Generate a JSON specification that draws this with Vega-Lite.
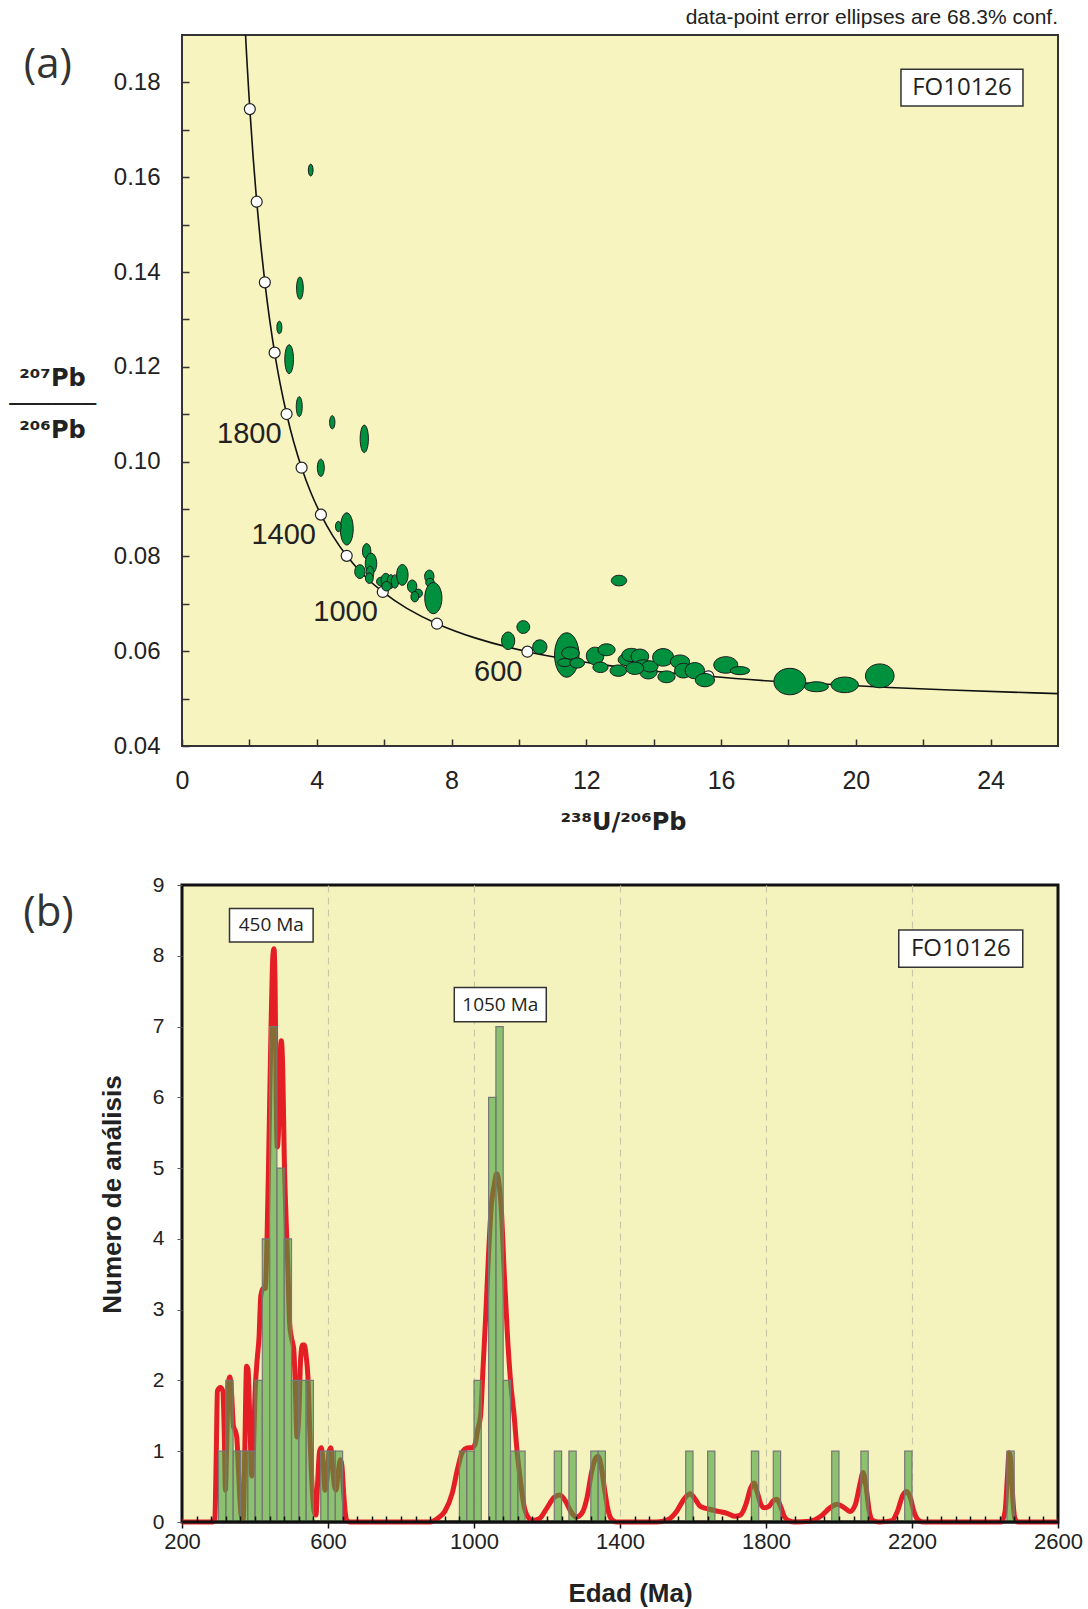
{
  "$schema": "https://vega.github.io/schema/vega-lite/v6.json",
  "autosize": {"type": "none"},
  "params": [{"name": "width", "value": 876}, {"name": "height", "value": 1487}],
  "padding": {"left": 182, "top": 35, "right": 30, "bottom": 87},
  "background": "white",
  "bounds": "flush",
  "spacing": 139,
  "config": {
    "font": "Liberation Sans",
    "axis": {"domain": false, "grid": false, "labelColor": "#222", "tickColor": "#222", "labelFlush": false, "labelOverlap": false, "titleColor": "#222"}
  },
  "datasets": {
    "concordia": [
      {"t": 240, "x": 26.363, "y": 0.050982},
      {"t": 250, "x": 25.289, "y": 0.051204},
      {"t": 300, "x": 20.992, "y": 0.052334},
      {"t": 350, "x": 17.923, "y": 0.053499},
      {"t": 400, "x": 15.621, "y": 0.0547},
      {"t": 450, "x": 13.831, "y": 0.05594},
      {"t": 500, "x": 12.399, "y": 0.05722},
      {"t": 600, "x": 10.252, "y": 0.059901},
      {"t": 700, "x": 8.718, "y": 0.062757},
      {"t": 800, "x": 7.568, "y": 0.0658},
      {"t": 900, "x": 6.674, "y": 0.069042},
      {"t": 1000, "x": 5.959, "y": 0.072499},
      {"t": 1100, "x": 5.375, "y": 0.076187},
      {"t": 1200, "x": 4.888, "y": 0.080123},
      {"t": 1300, "x": 4.476, "y": 0.084323},
      {"t": 1400, "x": 4.123, "y": 0.088807},
      {"t": 1500, "x": 3.817, "y": 0.093597},
      {"t": 1600, "x": 3.55, "y": 0.098716},
      {"t": 1700, "x": 3.314, "y": 0.104187},
      {"t": 1800, "x": 3.105, "y": 0.110036},
      {"t": 1900, "x": 2.917, "y": 0.116293},
      {"t": 2000, "x": 2.749, "y": 0.122987},
      {"t": 2100, "x": 2.597, "y": 0.13015},
      {"t": 2200, "x": 2.459, "y": 0.13782},
      {"t": 2300, "x": 2.333, "y": 0.146034},
      {"t": 2400, "x": 2.217, "y": 0.154833},
      {"t": 2500, "x": 2.111, "y": 0.164261},
      {"t": 2600, "x": 2.013, "y": 0.174367},
      {"t": 2700, "x": 1.922, "y": 0.1852},
      {"t": 2750, "x": 1.88, "y": 0.190908}
    ],
    "ellipses": [
      {"x": 3.82, "y": 0.1615, "sy": 0.00125, "form": "n4"},
      {"x": 3.5, "y": 0.1366, "sy": 0.00235, "form": "n3"},
      {"x": 2.89, "y": 0.1283, "sy": 0.00132, "form": "n4"},
      {"x": 3.18, "y": 0.1216, "sy": 0.00305, "form": "n3"},
      {"x": 3.48, "y": 0.1116, "sy": 0.0021, "form": "n3"},
      {"x": 4.46, "y": 0.1083, "sy": 0.0014, "form": "n4"},
      {"x": 5.41, "y": 0.1048, "sy": 0.0029, "form": "n3"},
      {"x": 4.12, "y": 0.0987, "sy": 0.00182, "form": "n4"},
      {"x": 4.89, "y": 0.0858, "sy": 0.0034, "form": "n4"},
      {"x": 4.64, "y": 0.0863, "sy": 0.0011, "form": "n5"},
      {"x": 5.48, "y": 0.0811, "sy": 0.0016, "form": "n5"},
      {"x": 5.61, "y": 0.0785, "sy": 0.0022, "form": "n5"},
      {"x": 5.28, "y": 0.0768, "sy": 0.00145, "form": "n7"},
      {"x": 5.58, "y": 0.0765, "sy": 0.00145, "form": "n5"},
      {"x": 5.56, "y": 0.0754, "sy": 0.0011, "form": "n7"},
      {"x": 5.9, "y": 0.0747, "sy": 0.0009, "form": "r"},
      {"x": 6.05, "y": 0.0751, "sy": 0.00132, "form": "n7"},
      {"x": 6.2, "y": 0.0747, "sy": 0.00145, "form": "n5"},
      {"x": 6.32, "y": 0.0747, "sy": 0.0014, "form": "n5"},
      {"x": 6.07, "y": 0.0737, "sy": 0.001, "form": "r"},
      {"x": 6.54, "y": 0.0761, "sy": 0.0022, "form": "n5"},
      {"x": 6.83, "y": 0.0737, "sy": 0.00132, "form": "n7"},
      {"x": 7.01, "y": 0.0722, "sy": 0.0009, "form": "r"},
      {"x": 6.91, "y": 0.0715, "sy": 0.0011, "form": "n7"},
      {"x": 7.34, "y": 0.0758, "sy": 0.00132, "form": "n7"},
      {"x": 7.36, "y": 0.0745, "sy": 0.0009, "form": "r"},
      {"x": 7.46, "y": 0.0712, "sy": 0.0033, "form": "n5"},
      {"x": 9.68, "y": 0.0622, "sy": 0.00185, "form": "n7"},
      {"x": 10.13, "y": 0.0651, "sy": 0.00135, "form": "r"},
      {"x": 10.62, "y": 0.0609, "sy": 0.0015, "form": "r"},
      {"x": 11.42, "y": 0.0592, "sy": 0.0047, "form": "n5"},
      {"x": 11.53, "y": 0.0596, "sy": 0.00128, "form": "w1"},
      {"x": 11.36, "y": 0.0576, "sy": 0.00085, "form": "w2"},
      {"x": 11.73, "y": 0.0575, "sy": 0.00106, "form": "w1"},
      {"x": 12.26, "y": 0.059, "sy": 0.00185, "form": "r"},
      {"x": 12.6, "y": 0.0603, "sy": 0.00125, "form": "w1"},
      {"x": 12.42, "y": 0.0566, "sy": 0.0011, "form": "w1"},
      {"x": 12.95, "y": 0.0559, "sy": 0.0012, "form": "w1"},
      {"x": 13.2, "y": 0.0582, "sy": 0.00125, "form": "w1"},
      {"x": 13.34, "y": 0.0592, "sy": 0.0014, "form": "w1"},
      {"x": 13.59, "y": 0.0589, "sy": 0.00155, "form": "w0"},
      {"x": 13.69, "y": 0.0568, "sy": 0.0014, "form": "w1"},
      {"x": 13.84, "y": 0.0557, "sy": 0.00155, "form": "w0"},
      {"x": 13.89, "y": 0.0568, "sy": 0.00118, "form": "w1"},
      {"x": 13.44, "y": 0.0564, "sy": 0.0013, "form": "w1"},
      {"x": 14.28, "y": 0.0587, "sy": 0.00185, "form": "w0"},
      {"x": 14.38, "y": 0.0546, "sy": 0.00125, "form": "w1"},
      {"x": 14.78, "y": 0.0578, "sy": 0.0014, "form": "w1"},
      {"x": 14.88, "y": 0.0559, "sy": 0.00155, "form": "w0"},
      {"x": 15.22, "y": 0.0559, "sy": 0.0017, "form": "w0"},
      {"x": 15.52, "y": 0.0539, "sy": 0.0014, "form": "w1"},
      {"x": 16.14, "y": 0.0571, "sy": 0.00175, "form": "w1"},
      {"x": 16.56, "y": 0.0559, "sy": 0.00085, "form": "w3"},
      {"x": 18.04, "y": 0.0536, "sy": 0.0028, "form": "w0"},
      {"x": 18.83, "y": 0.0525, "sy": 0.00105, "form": "w3"},
      {"x": 19.67, "y": 0.0529, "sy": 0.00165, "form": "w2"},
      {"x": 20.71, "y": 0.0548, "sy": 0.00252, "form": "w0"},
      {"x": 12.97, "y": 0.0749, "sy": 0.00112, "form": "w1"}
    ],
    "bins": [
      {"a": 300, "b": 320, "n": 1}, {"a": 320, "b": 340, "n": 2}, {"a": 340, "b": 360, "n": 1},
      {"a": 360, "b": 380, "n": 1}, {"a": 380, "b": 400, "n": 1}, {"a": 400, "b": 420, "n": 2},
      {"a": 420, "b": 440, "n": 4}, {"a": 440, "b": 460, "n": 7}, {"a": 460, "b": 480, "n": 5},
      {"a": 480, "b": 500, "n": 4}, {"a": 500, "b": 520, "n": 2}, {"a": 520, "b": 540, "n": 2},
      {"a": 540, "b": 560, "n": 2}, {"a": 580, "b": 600, "n": 1}, {"a": 600, "b": 620, "n": 1},
      {"a": 620, "b": 640, "n": 1},
      {"a": 960, "b": 980, "n": 1}, {"a": 980, "b": 1000, "n": 1}, {"a": 1000, "b": 1020, "n": 2},
      {"a": 1040, "b": 1060, "n": 6}, {"a": 1060, "b": 1080, "n": 7}, {"a": 1080, "b": 1100, "n": 2},
      {"a": 1100, "b": 1120, "n": 1}, {"a": 1120, "b": 1140, "n": 1},
      {"a": 1220, "b": 1240, "n": 1}, {"a": 1260, "b": 1280, "n": 1}, {"a": 1320, "b": 1340, "n": 1},
      {"a": 1340, "b": 1360, "n": 1},
      {"a": 1580, "b": 1600, "n": 1}, {"a": 1640, "b": 1660, "n": 1}, {"a": 1760, "b": 1780, "n": 1},
      {"a": 1820, "b": 1840, "n": 1}, {"a": 1980, "b": 2000, "n": 1}, {"a": 2060, "b": 2080, "n": 1},
      {"a": 2180, "b": 2200, "n": 1}, {"a": 2460, "b": 2480, "n": 1}
    ],
    "kde": [
      {"age": 200, "d": 0}, {"age": 285, "d": 0}, {"age": 290, "d": 0.05}, {"age": 294, "d": 1.0},
      {"age": 297, "d": 1.85}, {"age": 305, "d": 1.9}, {"age": 312, "d": 1.85}, {"age": 316, "d": 1.2},
      {"age": 319, "d": 0.45}, {"age": 322, "d": 1.0}, {"age": 327, "d": 1.95}, {"age": 331, "d": 2.05},
      {"age": 336, "d": 1.8}, {"age": 341, "d": 1.35}, {"age": 345, "d": 1.3}, {"age": 350, "d": 1.2},
      {"age": 355, "d": 0.7}, {"age": 362, "d": 0.1}, {"age": 368, "d": 0.05}, {"age": 372, "d": 1.0},
      {"age": 377, "d": 2.2}, {"age": 381, "d": 2.15}, {"age": 386, "d": 1.4}, {"age": 391, "d": 0.65},
      {"age": 395, "d": 0.9}, {"age": 400, "d": 1.8}, {"age": 406, "d": 2.3}, {"age": 411, "d": 2.6},
      {"age": 416, "d": 3.2}, {"age": 422, "d": 3.3}, {"age": 428, "d": 3.3}, {"age": 433, "d": 4.0},
      {"age": 438, "d": 5.3}, {"age": 444, "d": 7.0}, {"age": 449, "d": 8.0}, {"age": 452, "d": 8.1},
      {"age": 455, "d": 7.6}, {"age": 458, "d": 6.0}, {"age": 461, "d": 5.3}, {"age": 465, "d": 5.6},
      {"age": 469, "d": 6.5}, {"age": 472, "d": 6.8}, {"age": 476, "d": 6.4}, {"age": 480, "d": 5.2},
      {"age": 485, "d": 4.3}, {"age": 490, "d": 3.6}, {"age": 495, "d": 2.8}, {"age": 500, "d": 2.6},
      {"age": 506, "d": 2.45}, {"age": 510, "d": 2.0}, {"age": 515, "d": 1.2}, {"age": 520, "d": 1.5},
      {"age": 525, "d": 2.3}, {"age": 530, "d": 2.5}, {"age": 535, "d": 2.5}, {"age": 540, "d": 2.35},
      {"age": 545, "d": 2.05}, {"age": 550, "d": 1.3}, {"age": 556, "d": 0.55}, {"age": 562, "d": 0.15},
      {"age": 567, "d": 0.1}, {"age": 572, "d": 0.6}, {"age": 577, "d": 1.0}, {"age": 582, "d": 1.05},
      {"age": 587, "d": 0.8}, {"age": 592, "d": 0.45}, {"age": 597, "d": 0.6}, {"age": 603, "d": 1.0},
      {"age": 608, "d": 1.05}, {"age": 613, "d": 0.75}, {"age": 618, "d": 0.5}, {"age": 622, "d": 0.45},
      {"age": 628, "d": 0.7}, {"age": 634, "d": 0.88}, {"age": 638, "d": 0.8}, {"age": 643, "d": 0.4},
      {"age": 648, "d": 0.1}, {"age": 652, "d": 0.02}, {"age": 660, "d": 0}, {"age": 880, "d": 0},
      {"age": 900, "d": 0.05}, {"age": 920, "d": 0.15}, {"age": 940, "d": 0.4}, {"age": 955, "d": 0.75},
      {"age": 965, "d": 0.95}, {"age": 975, "d": 1.03}, {"age": 985, "d": 1.05}, {"age": 995, "d": 1.05},
      {"age": 1003, "d": 1.1}, {"age": 1010, "d": 1.3}, {"age": 1018, "d": 1.5}, {"age": 1025, "d": 2.2},
      {"age": 1032, "d": 2.9}, {"age": 1040, "d": 3.8}, {"age": 1048, "d": 4.5}, {"age": 1055, "d": 4.75},
      {"age": 1062, "d": 4.92}, {"age": 1068, "d": 4.8}, {"age": 1075, "d": 4.4}, {"age": 1083, "d": 3.5},
      {"age": 1092, "d": 2.6}, {"age": 1100, "d": 2.0}, {"age": 1110, "d": 1.5}, {"age": 1118, "d": 1.0},
      {"age": 1128, "d": 0.55}, {"age": 1138, "d": 0.2}, {"age": 1148, "d": 0.07}, {"age": 1160, "d": 0.02},
      {"age": 1180, "d": 0.05}, {"age": 1200, "d": 0.2}, {"age": 1220, "d": 0.35}, {"age": 1235, "d": 0.38},
      {"age": 1250, "d": 0.3}, {"age": 1265, "d": 0.15}, {"age": 1280, "d": 0.07}, {"age": 1295, "d": 0.12},
      {"age": 1310, "d": 0.35}, {"age": 1322, "d": 0.7}, {"age": 1333, "d": 0.9}, {"age": 1340, "d": 0.93},
      {"age": 1348, "d": 0.8}, {"age": 1358, "d": 0.45}, {"age": 1368, "d": 0.15}, {"age": 1378, "d": 0.03},
      {"age": 1390, "d": 0}, {"age": 1500, "d": 0}, {"age": 1530, "d": 0.03}, {"age": 1555, "d": 0.15},
      {"age": 1575, "d": 0.32}, {"age": 1592, "d": 0.4}, {"age": 1605, "d": 0.33}, {"age": 1620, "d": 0.22},
      {"age": 1645, "d": 0.18}, {"age": 1670, "d": 0.15}, {"age": 1695, "d": 0.12}, {"age": 1715, "d": 0.08},
      {"age": 1730, "d": 0.1}, {"age": 1745, "d": 0.25}, {"age": 1758, "d": 0.48}, {"age": 1767, "d": 0.55},
      {"age": 1776, "d": 0.42}, {"age": 1786, "d": 0.25}, {"age": 1796, "d": 0.2}, {"age": 1808, "d": 0.22},
      {"age": 1820, "d": 0.3}, {"age": 1830, "d": 0.32}, {"age": 1840, "d": 0.22}, {"age": 1850, "d": 0.08},
      {"age": 1862, "d": 0.02}, {"age": 1880, "d": 0}, {"age": 1920, "d": 0.01}, {"age": 1950, "d": 0.08},
      {"age": 1975, "d": 0.2}, {"age": 1995, "d": 0.25}, {"age": 2015, "d": 0.2}, {"age": 2030, "d": 0.15},
      {"age": 2045, "d": 0.25}, {"age": 2058, "d": 0.55}, {"age": 2066, "d": 0.7}, {"age": 2074, "d": 0.5},
      {"age": 2083, "d": 0.15}, {"age": 2093, "d": 0.02}, {"age": 2110, "d": 0}, {"age": 2145, "d": 0.02},
      {"age": 2160, "d": 0.15}, {"age": 2175, "d": 0.38}, {"age": 2185, "d": 0.43}, {"age": 2195, "d": 0.35},
      {"age": 2205, "d": 0.15}, {"age": 2215, "d": 0.04}, {"age": 2230, "d": 0}, {"age": 2445, "d": 0},
      {"age": 2455, "d": 0.15}, {"age": 2461, "d": 0.6}, {"age": 2466, "d": 0.98}, {"age": 2471, "d": 0.85},
      {"age": 2476, "d": 0.35}, {"age": 2482, "d": 0.05}, {"age": 2490, "d": 0}, {"age": 2600, "d": 0}
    ]
  },
  "vconcat": [
    {
      "width": 876,
      "height": 711,
      "title": {"text": "data-point error ellipses are 68.3% conf.", "anchor": "end", "frame": "group", "orient": "top", "fontSize": 21, "fontWeight": "normal", "font": "Liberation Sans", "color": "#222", "offset": 7},
      "view": {"fill": "#f7f4c0", "stroke": "#333", "strokeWidth": 2},
      "layer": [
        {
          "data": {"name": "concordia"},
          "mark": {"type": "line", "color": "#111", "strokeWidth": 1.6, "clip": true, "interpolate": "catmull-rom"},
          "encoding": {
            "x": {"field": "x", "type": "quantitative", "scale": {"domain": [0, 26], "nice": false, "zero": false},
              "axis": {"values": [0, 2, 4, 6, 8, 10, 12, 14, 16, 18, 20, 22, 24], "labelExpr": "datum.value % 4 == 0 ? datum.label : ''",
                "tickSize": -7, "tickWidth": 1.5, "tickColor": "#333", "labelFontSize": 25, "labelPadding": 29,
                "title": "²³⁸U/²⁰⁶Pb", "titleFont": "DejaVu Sans", "titleFontSize": 24, "titleFontWeight": "bold", "titleX": 441, "titleY": 76, "titleAlign": "center", "titleBaseline": "middle"}},
            "y": {"field": "y", "type": "quantitative", "scale": {"domain": [0.04, 0.19], "nice": false, "zero": false},
              "axis": {"values": [0.04, 0.05, 0.06, 0.07, 0.08, 0.09, 0.1, 0.11, 0.12, 0.13, 0.14, 0.15, 0.16, 0.17, 0.18],
                "labelExpr": "round(datum.value * 100) % 2 == 0 ? format(datum.value, '.2f') : ''",
                "tickSize": -7, "tickWidth": 1.5, "tickColor": "#333", "labelFontSize": 24, "labelPadding": 29,
                "title": ["²⁰⁷Pb", "──────", "²⁰⁶Pb"], "titleAngle": 0, "titleX": -130, "titleY": 343, "titleAlign": "center", "titleBaseline": "middle",
                "titleFont": "DejaVu Sans", "titleFontSize": 24, "titleFontWeight": "bold", "titleLineHeight": 26}},
            "order": {"field": "t", "type": "quantitative"}
          }
        },
        {
          "data": {"name": "concordia"},
          "transform": [{"filter": "datum.t >= 400 && datum.t <= 2600 && datum.t % 200 == 0"}],
          "mark": {"type": "point", "shape": "circle", "filled": true, "fill": "white", "stroke": "#222", "strokeWidth": 1.2, "size": 121, "opacity": 1},
          "encoding": {
            "x": {"field": "x", "type": "quantitative"},
            "y": {"field": "y", "type": "quantitative"}
          }
        },
        {
          "data": {"name": "concordia"},
          "transform": [{"filter": "datum.t >= 600 && datum.t <= 1800 && datum.t % 400 == 200"}],
          "mark": {"type": "text", "align": "right", "baseline": "middle", "dx": -5, "dy": 20, "fontSize": 29, "font": "Liberation Sans", "color": "#222"},
          "encoding": {
            "x": {"field": "x", "type": "quantitative"},
            "y": {"field": "y", "type": "quantitative"},
            "text": {"field": "t", "type": "quantitative", "format": "d"}
          }
        },
        {
          "data": {"name": "ellipses"},
          "mark": {"type": "point", "filled": true, "fill": "#00913f", "stroke": "#1a1a1a", "strokeWidth": 1, "opacity": 1},
          "encoding": {
            "x": {"field": "x", "type": "quantitative"},
            "y": {"field": "y", "type": "quantitative"},
            "size": {"field": "sy", "type": "quantitative", "scale": {"type": "pow", "exponent": 2, "domain": [0, 0.01], "range": [0, 8960]}, "legend": null},
            "shape": {"field": "form", "type": "nominal", "legend": null, "scale": {
              "domain": ["n3", "n4", "n5", "n7", "r", "w0", "w1", "w2", "w3"],
              "range": [
                "M0 -1 A0.3 1 0 1 1 0 1 A0.3 1 0 1 1 0 -1 Z",
                "M0 -1 A0.4 1 0 1 1 0 1 A0.4 1 0 1 1 0 -1 Z",
                "M0 -1 A0.55 1 0 1 1 0 1 A0.55 1 0 1 1 0 -1 Z",
                "M0 -1 A0.75 1 0 1 1 0 1 A0.75 1 0 1 1 0 -1 Z",
                "M0 -1 A1 1 0 1 1 0 1 A1 1 0 1 1 0 -1 Z",
                "M0 -1 A1.2 1 0 1 1 0 1 A1.2 1 0 1 1 0 -1 Z",
                "M0 -1 A1.45 1 0 1 1 0 1 A1.45 1 0 1 1 0 -1 Z",
                "M0 -1 A1.75 1 0 1 1 0 1 A1.75 1 0 1 1 0 -1 Z",
                "M0 -1 A2.4 1 0 1 1 0 1 A2.4 1 0 1 1 0 -1 Z"
              ]}}
          }
        },
        {
          "data": {"values": [{"label": "FO10126"}]},
          "mark": {"type": "point", "shape": "M-1 -0.3 H1 V0.3 H-1 Z", "size": 14884, "filled": true, "fill": "white", "stroke": "#333", "strokeWidth": 1.5, "opacity": 1},
          "encoding": {
            "x": {"datum": 23.15, "type": "quantitative"},
            "y": {"datum": 0.1789, "type": "quantitative"}
          }
        },
        {
          "data": {"values": [{"label": "FO10126"}]},
          "mark": {"type": "text", "align": "center", "baseline": "middle", "fontSize": 24, "font": "Open Sans", "color": "#231f20"},
          "encoding": {
            "x": {"datum": 23.15, "type": "quantitative"},
            "y": {"datum": 0.1789, "type": "quantitative"},
            "text": {"field": "label"}
          }
        },
        {
          "data": {"values": [{"label": "(a)"}]},
          "mark": {"type": "text", "align": "center", "baseline": "middle", "fontSize": 42, "font": "Open Sans", "color": "#333"},
          "encoding": {
            "x": {"datum": -3.98, "type": "quantitative"},
            "y": {"datum": 0.1837, "type": "quantitative"},
            "text": {"field": "label"}
          }
        }
      ]
    },
    {
      "width": 876,
      "height": 637,
      "view": {"fill": "#f5f3bd", "stroke": "#111", "strokeWidth": 3},
      "resolve": {"scale": {"x": "shared", "y": "shared"}, "axis": {"x": "independent"}},
      "layer": [
        {
          "data": {"name": "kde"},
          "mark": {"type": "line", "color": "#e31e24", "strokeWidth": 5, "interpolate": "monotone"},
          "encoding": {
            "x": {"field": "age", "type": "quantitative", "scale": {"domain": [200, 2600], "nice": false, "zero": false},
              "axis": {"orient": "bottom", "values": [200, 600, 1000, 1400, 1800, 2200, 2600], "format": "d", "tickSize": 6, "tickWidth": 1.5, "tickColor": "#111",
                "labelFontSize": 22, "labelPadding": 3, "grid": false,
                "title": "Edad (Ma)", "titleFontSize": 26, "titleFontWeight": "bold", "titleX": 448, "titleY": 71, "titleAlign": "center", "titleBaseline": "middle"}},
            "y": {"field": "d", "type": "quantitative", "scale": {"domain": [0, 9], "nice": false, "zero": false},
              "axis": {"values": [0, 1, 2, 3, 4, 5, 6, 7, 8, 9], "format": "d", "tickSize": 5, "tickColor": "#555", "tickWidth": 1, "labelFontSize": 21, "labelPadding": 13,
                "title": "Numero de análisis", "titleFontSize": 26, "titleFontWeight": "bold", "titleAngle": -90, "titleX": -70, "titleY": 309, "titleAlign": "center", "titleBaseline": "middle"}}
          }
        },
        {
          "data": {"name": "bins"},
          "mark": {"type": "rect", "fill": "#46a03c", "fillOpacity": 0.6, "stroke": "#777", "strokeWidth": 1.2},
          "encoding": {
            "x": {"field": "a", "type": "quantitative",
              "axis": {"orient": "bottom", "zindex": 1, "values": [240, 280, 320, 360, 400, 440, 480, 520, 560, 640, 680, 720, 760, 800, 840, 880, 920, 960, 1040, 1080, 1120, 1160, 1200, 1240, 1280, 1320, 1360, 1440, 1480, 1520, 1560, 1600, 1640, 1680, 1720, 1760, 1840, 1880, 1920, 1960, 2000, 2040, 2080, 2120, 2160, 2240, 2280, 2320, 2360, 2400, 2440, 2480, 2520, 2560],
                "tickSize": -6, "tickWidth": 1.5, "tickColor": "#111", "labels": false, "grid": false, "title": null}},
            "x2": {"field": "b"},
            "y": {"field": "n", "type": "quantitative"},
            "y2": {"datum": 0}
          }
        },
        {
          "data": {"values": [{}]},
          "mark": {"type": "rule", "color": "#111", "strokeWidth": 3},
          "encoding": {
            "y": {"datum": 0, "type": "quantitative"}
          }
        },
        {
          "data": {"values": [{"label": "450 Ma"}]},
          "mark": {"type": "point", "shape": "M-1 -0.4 H1 V0.4 H-1 Z", "size": 6989, "filled": true, "fill": "white", "stroke": "#333", "strokeWidth": 1.5, "opacity": 1},
          "encoding": {
            "x": {"datum": 444.7, "type": "quantitative",
              "axis": {"orient": "bottom", "values": [600, 1000, 1400, 1800, 2200], "grid": true, "gridDash": [7, 5], "gridColor": "#c9c7a8", "gridWidth": 1.2, "ticks": false, "labels": false, "title": null, "domain": false}},
            "y": {"datum": 8.43, "type": "quantitative"}
          }
        },
        {
          "data": {"values": [{"label": "450 Ma"}]},
          "mark": {"type": "text", "align": "center", "baseline": "middle", "fontSize": 19, "font": "Open Sans", "color": "#231f20"},
          "encoding": {
            "x": {"datum": 444.7, "type": "quantitative", "axis": null},
            "y": {"datum": 8.43, "type": "quantitative"},
            "text": {"field": "label"}
          }
        },
        {
          "data": {"values": [{"label": "1050 Ma"}]},
          "mark": {"type": "point", "shape": "M-1 -0.374 H1 V0.374 H-1 Z", "size": 8464, "filled": true, "fill": "white", "stroke": "#333", "strokeWidth": 1.5, "opacity": 1},
          "encoding": {
            "x": {"datum": 1072, "type": "quantitative", "axis": null},
            "y": {"datum": 7.31, "type": "quantitative"}
          }
        },
        {
          "data": {"values": [{"label": "1050 Ma"}]},
          "mark": {"type": "text", "align": "center", "baseline": "middle", "fontSize": 19, "font": "Open Sans", "color": "#231f20"},
          "encoding": {
            "x": {"datum": 1072, "type": "quantitative", "axis": null},
            "y": {"datum": 7.31, "type": "quantitative"},
            "text": {"field": "label"}
          }
        },
        {
          "data": {"values": [{"label": "FO10126"}]},
          "mark": {"type": "point", "shape": "M-1 -0.3 H1 V0.3 H-1 Z", "size": 15376, "filled": true, "fill": "white", "stroke": "#333", "strokeWidth": 1.5, "opacity": 1},
          "encoding": {
            "x": {"datum": 2333.6, "type": "quantitative", "axis": null},
            "y": {"datum": 8.1, "type": "quantitative"}
          }
        },
        {
          "data": {"values": [{"label": "FO10126"}]},
          "mark": {"type": "text", "align": "center", "baseline": "middle", "fontSize": 24, "font": "Open Sans", "color": "#231f20"},
          "encoding": {
            "x": {"datum": 2333.6, "type": "quantitative", "axis": null},
            "y": {"datum": 8.1, "type": "quantitative"},
            "text": {"field": "label"}
          }
        },
        {
          "data": {"values": [{"label": "(b)"}]},
          "mark": {"type": "text", "align": "center", "baseline": "middle", "fontSize": 42, "font": "Open Sans", "color": "#333"},
          "encoding": {
            "x": {"datum": -165.7, "type": "quantitative", "axis": null},
            "y": {"datum": 8.6, "type": "quantitative"},
            "text": {"field": "label"}
          }
        }
      ]
    }
  ]
}
